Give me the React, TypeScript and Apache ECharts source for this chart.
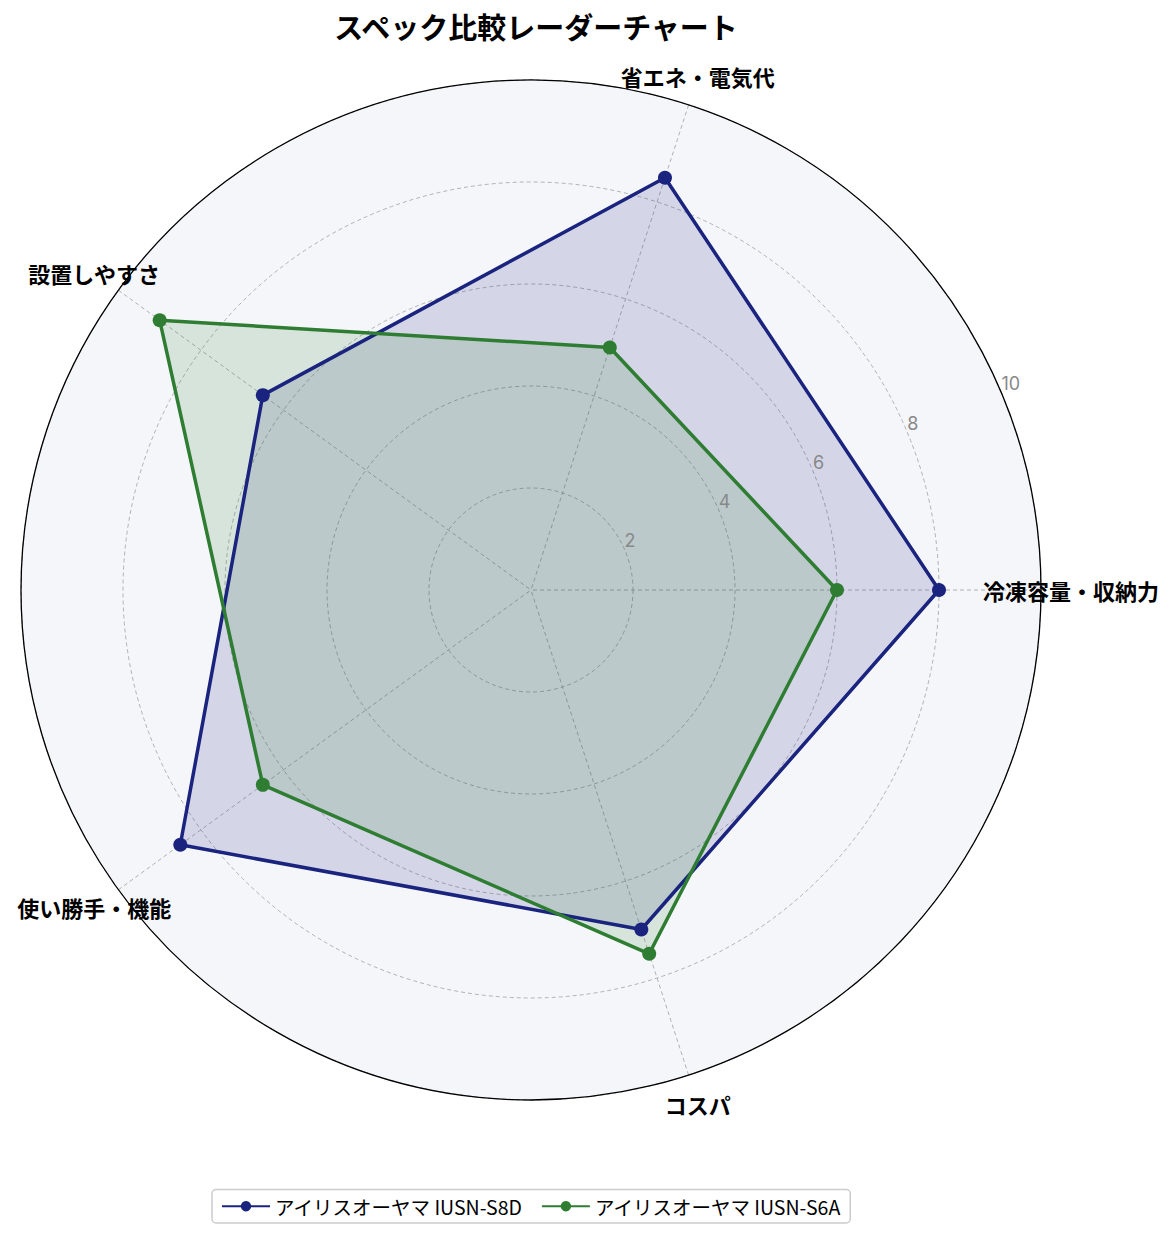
import { useEffect, useRef } from 'react';
import * as echarts from 'echarts';

const categories = ['冷凍容量・収納力', '省エネ・電気代', '設置しやすさ', '使い勝手・機能', 'コスパ'];
const seriesNames = ['アイリスオーヤマ IUSN-S8D', 'アイリスオーヤマ IUSN-S6A'];
const valuesS8D = [8, 8.5, 6.5, 8.5, 7];
const valuesS6A = [6, 5, 9, 6.5, 7.5];
const radialTicks = [0, 2, 4, 6, 8, 10];
const seriesColors = ['#1a237e', '#2e7d32'];

const CENTER = [531, 590];
const RADIUS = 510;
const LABEL_RADIUS = 540;

const step = 360 / categories.length;

// close the polygon by repeating the first value at 360°
const toPolar = (values: number[]) => [
  ...values.map((v, i) => [v, i * step]),
  { value: [values[0], 360], symbol: 'none' },
];

const gridLine = { color: '#a0a0a0', type: [4, 3], width: 0.8 };

export default function App() {
  const chartRef = useRef<HTMLDivElement>(null);

  useEffect(() => {
    document.body.style.margin = '0';
    const chart = echarts.init(chartRef.current, null, { renderer: 'svg' });
    const rMax = radialTicks[radialTicks.length - 1];

    const makeSeries = (name: string, values: number[], color: string) => ({
      name,
      type: 'line',
      coordinateSystem: 'polar',
      polarIndex: 0,
      data: toPolar(values),
      symbol: 'circle',
      symbolSize: 14,
      lineStyle: { color, width: 3.5 },
      itemStyle: { color },
      areaStyle: { color, opacity: 0.15 },
      z: 3,
    });

    const hiddenAngle = (polarIndex: number, startAngle: number) => ({
      polarIndex,
      type: 'value',
      min: 0,
      max: 360,
      startAngle,
      clockwise: false,
      axisLine: { show: false },
      axisTick: { show: false },
      axisLabel: { show: false },
      splitLine: { show: false },
    });

    const hiddenRadius = (polarIndex: number) => ({
      polarIndex,
      type: 'value',
      min: 0,
      max: rMax,
      axisLine: { show: false },
      axisTick: { show: false },
      axisLabel: { show: false },
      splitLine: { show: false },
    });

    chart.setOption({
      animation: false,
      backgroundColor: '#ffffff',
      title: {
        text: 'スペック比較レーダーチャート',
        left: CENTER[0],
        textAlign: 'center',
        top: 6,
        textStyle: {
          fontFamily: 'Noto Sans CJK JP',
          fontWeight: 'bold',
          fontSize: 29,
          color: '#000',
        },
      },
      legend: {
        data: seriesNames,
        bottom: 16,
        left: 212,
        itemWidth: 48,
        itemHeight: 13,
        itemGap: 18,
        padding: [7, 9],
        borderColor: '#cccccc',
        borderWidth: 1.5,
        borderRadius: 4,
        textStyle: { fontFamily: 'Noto Sans CJK JP', fontSize: 19.5, color: '#000' },
      },
      polar: [
        { center: CENTER, radius: RADIUS },
        { center: CENTER, radius: RADIUS },
        { center: CENTER, radius: RADIUS },
        { center: CENTER, radius: LABEL_RADIUS },
      ],
      angleAxis: [
        {
          polarIndex: 0,
          type: 'value',
          min: 0,
          max: 360,
          interval: step,
          startAngle: 0,
          clockwise: false,
          axisLine: { show: true, lineStyle: { color: '#000', width: 1.3 } },
          axisTick: { show: false },
          axisLabel: { show: false },
          splitLine: { show: true, lineStyle: gridLine },
          z: 2,
        },
        hiddenAngle(1, 22.5),
        hiddenAngle(2, 0),
        hiddenAngle(3, 0),
      ],
      radiusAxis: [
        {
          ...hiddenRadius(0),
          interval: 2,
          splitLine: { show: true, lineStyle: gridLine },
          z: 2,
        },
        {
          ...hiddenRadius(1),
          interval: 2,
          axisLabel: {
            show: true,
            showMinLabel: false,
            color: '#888888',
            fontFamily: 'Inter',
            fontSize: 18,
            margin: 2,
            align: 'left',
            verticalAlign: 'bottom',
          },
          z: 5,
        },
        {
          ...hiddenRadius(2),
          splitArea: { show: true, areaStyle: { color: ['#f5f6fa'] } },
          z: 0,
        },
        hiddenRadius(3),
      ],
      series: [
        makeSeries(seriesNames[0], valuesS8D, seriesColors[0]),
        makeSeries(seriesNames[1], valuesS6A, seriesColors[1]),
        {
          type: 'scatter',
          coordinateSystem: 'polar',
          polarIndex: 3,
          silent: true,
          clip: false,
          symbolSize: 0,
          itemStyle: { color: '#000', opacity: 1 },
          data: categories.map((c, i) => ({ name: c, value: [rMax, i * step] })),
          label: {
            show: true,
            position: 'inside',
            formatter: '{b}',
            fontFamily: 'Noto Sans CJK JP',
            fontWeight: 'bold',
            fontSize: 22,
            color: '#000',
            textBorderWidth: 0,
          },
          z: 6,
        },
      ],
    });

    return () => {
      chart.dispose();
    };
  }, []);

  return <div ref={chartRef} style={{ width: 1176, height: 1239 }} />;
}
